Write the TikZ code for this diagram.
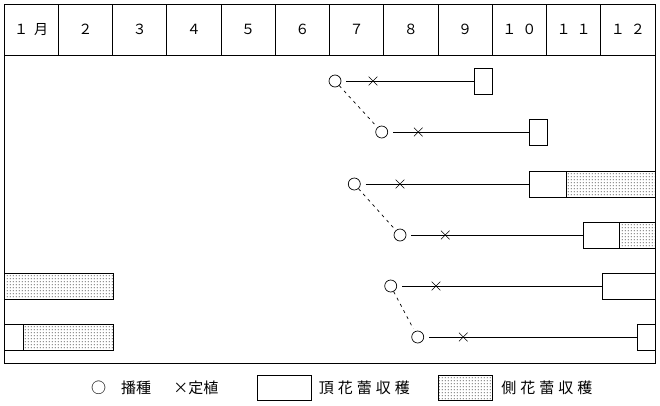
\documentclass[tikz,border=0pt]{standalone}
\usepackage{fontspec}
\setmainfont{Noto Sans CJK JP}
\usetikzlibrary{patterns,shapes.misc}
\newcommand{\gp}{\hspace{6pt}}
\newcommand{\lp}{\hspace{4pt}}
\pgfdeclarepatternformonly{ddots}{\pgfpointorigin}{\pgfpoint{3pt}{3pt}}{\pgfpoint{3pt}{3pt}}{%
  \pgfpathrectangle{\pgfpoint{1pt}{1pt}}{\pgfpoint{1.1pt}{1.1pt}}\pgfusepath{fill}}
\begin{document}
\begin{tikzpicture}[x=1pt,y=-1pt,line width=0.8pt,
  sow/.style={circle,draw,minimum size=12pt,inner sep=0pt,line width=0.7pt},
  plant/.style={cross out,draw,minimum size=8pt,inner sep=0pt,line width=0.6pt},
  tb/.style={draw,fill=white,minimum height=26pt,inner sep=0pt,anchor=west},
  sb/.style={draw,pattern=ddots,minimum height=26pt,inner sep=0pt,anchor=west},
  hdr/.style={font=\fontsize{14pt}{14pt}\selectfont,inner sep=0pt},
  lgt/.style={font=\fontsize{15pt}{15pt}\selectfont,inner sep=0pt,anchor=west},
  lgb/.style={draw,minimum width=54pt,minimum height=25pt,inner sep=0pt},
  track/.style={shorten <=5pt},
  link/.style={dash pattern=on 3pt off 4pt,line width=0.7pt,shorten >=3pt}]
\useasboundingbox (0,0) rectangle (660,405);
% frame and header
\node[draw,minimum width=651pt,minimum height=359pt,inner sep=0pt,anchor=north west] (frame) at (4,4) {};
\coordinate (hl) at (4,55);
\coordinate (hr) at (655,55);
\draw (hl) -- (hr);
\foreach \i in {1,...,11} {
  \draw ({4+54.25*\i},4) -- ({4+54.25*\i},55);
}
\node[hdr] (m1) at (31.1,29.5) {１\gp 月};
\node[hdr] (m2) at (85.4,29.5) {２};
\node[hdr] (m3) at (139.6,29.5) {３};
\node[hdr] (m4) at (193.9,29.5) {４};
\node[hdr] (m5) at (248.1,29.5) {５};
\node[hdr] (m6) at (302.4,29.5) {６};
\node[hdr] (m7) at (356.6,29.5) {７};
\node[hdr] (m8) at (410.9,29.5) {８};
\node[hdr] (m9) at (465.1,29.5) {９};
\node[hdr] (m10) at (519.4,29.5) {１\gp ０};
\node[hdr] (m11) at (573.6,29.5) {１\gp １};
\node[hdr] (m12) at (627.9,29.5) {１\gp ２};
% harvest boxes
\node[tb,minimum width=18.3pt] (h1) at (474,81) {};
\node[tb,minimum width=17.2pt] (h2) at (529.3,132) {};
\node[tb,minimum width=36.4pt] (h3) at (529.3,184) {};
\node[sb,minimum width=89.3pt] (g3) at (565.7,184) {};
\node[tb,minimum width=36pt] (h4) at (583.3,235) {};
\node[sb,minimum width=35.7pt] (g4) at (619.3,235) {};
\node[tb,minimum width=53.3pt] (h5) at (601.7,286) {};
\node[tb,minimum width=17.7pt] (h6) at (637.3,337) {};
\node[sb,minimum width=108.5pt] (g5) at (4,286) {};
\node[tb,minimum width=18.7pt] (h7) at (4,337) {};
\node[sb,minimum width=89.8pt] (g7) at (22.7,337) {};
% sowing circles
\node[sow] (s1) at (335,81) {};
\node[sow] (s2) at (381.7,132) {};
\node[sow] (s3) at (354.3,184) {};
\node[sow] (s4) at (400,235) {};
\node[sow] (s5) at (390.7,286) {};
\node[sow] (s6) at (417.7,337) {};
% tracks
\draw[track] (s1) -- (h1.west);
\draw[track] (s2) -- (h2.west);
\draw[track] (s3) -- (h3.west);
\draw[track] (s4) -- (h4.west);
\draw[track] (s5) -- (h5.west);
\draw[track] (s6) -- (h6.west);
% planting marks
\node[plant] (t1) at (373,81) {};
\node[plant] (t2) at (418.3,132) {};
\node[plant] (t3) at (400,184) {};
\node[plant] (t4) at (445.3,235) {};
\node[plant] (t5) at (436,286) {};
\node[plant] (t6) at (463.3,337) {};
% dashed links
\draw[link] (s1) -- (s2);
\draw[link] (s3) -- (s4);
\draw[link] (s5) -- (s6);
% legend
\node[lgt] (l1) at (90.8,388) {○　播種};
\node[lgt] (l2) at (173,388) {×定植};
\node[lgb] (lb1) at (284.3,388.3) {};
\node[lgt] (l3) at (318.5,388) {頂\lp 花\lp 蕾\lp 収\lp 穫};
\node[lgb,pattern=ddots] (lb2) at (465.5,388.3) {};
\node[lgt] (l4) at (501,388) {側\lp 花\lp 蕾\lp 収\lp 穫};
\end{tikzpicture}
\end{document}
